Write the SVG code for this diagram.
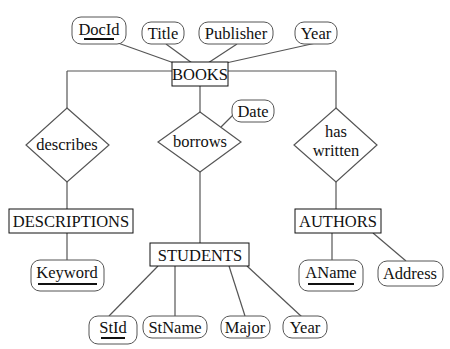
<svg xmlns="http://www.w3.org/2000/svg" width="450" height="349" viewBox="0 0 450 349">
<style>
text{font-family:"Liberation Serif","Times New Roman",serif;font-size:16.5px;fill:#111;text-anchor:middle;dominant-baseline:central}
.ent{fill:#fff;stroke:#111;stroke-width:1}
.att{fill:#fff;stroke:#555;stroke-width:1}
.rel{fill:#fff;stroke:#555;stroke-width:1.2}
.e{stroke:#555;stroke-width:1.2;fill:none}
.u{stroke:#111;stroke-width:2}
</style>
<rect width="450" height="349" fill="#fff"/>
<g id="connectors">
<line class="e" x1="67" y1="71" x2="336" y2="71"/>
<line class="e" x1="67" y1="71" x2="67" y2="108"/>
<line class="e" x1="336" y1="71" x2="336" y2="108"/>
<line class="e" x1="200" y1="86" x2="200" y2="112"/>
<line class="e" x1="118" y1="43" x2="174" y2="63"/>
<line class="e" x1="166" y1="44" x2="192" y2="63"/>
<line class="e" x1="237" y1="44" x2="208" y2="63"/>
<line class="e" x1="316" y1="43" x2="226" y2="63"/>
<line class="e" x1="221" y1="127" x2="234" y2="114"/>
<line class="e" x1="67" y1="182" x2="67" y2="209"/>
<line class="e" x1="67" y1="233" x2="67" y2="261"/>
<line class="e" x1="200" y1="172" x2="200" y2="243"/>
<line class="e" x1="336" y1="182" x2="336" y2="209"/>
<line class="e" x1="332" y1="233" x2="332" y2="261"/>
<line class="e" x1="373" y1="233" x2="406" y2="261"/>
<line class="e" x1="158" y1="266" x2="109" y2="316"/>
<line class="e" x1="175" y1="266" x2="175" y2="316"/>
<line class="e" x1="229" y1="266" x2="245" y2="316"/>
<line class="e" x1="247" y1="266" x2="302" y2="317"/>
</g>
<g id="BOOKS"><rect class="ent" x="172" y="62" width="56" height="24"/><text x="200" y="74">BOOKS</text></g>
<g id="DocId"><rect class="att" x="72" y="17" width="54" height="27" rx="9"/><text x="99" y="29">DocId</text><line class="u" x1="84" y1="39" x2="114" y2="39"/></g>
<g id="Title"><rect class="att" x="142" y="22" width="42" height="22" rx="9"/><text x="163" y="33">Title</text></g>
<g id="Publisher"><rect class="att" x="199" y="22" width="74" height="22" rx="9"/><text x="236" y="33">Publisher</text></g>
<g id="Year1"><rect class="att" x="295" y="22" width="42" height="22" rx="9"/><text x="316" y="33">Year</text></g>
<g id="describes"><polygon class="rel" points="67,108 109,145 67,182 26,145"/><text x="67" y="144">describes</text></g>
<g id="borrows"><polygon class="rel" points="200,112 241,142 200,172 158,142"/><text x="200" y="141">borrows</text></g>
<g id="Date"><rect class="att" x="232" y="100" width="42" height="22" rx="9"/><text x="253" y="111">Date</text></g>
<g id="haswritten"><polygon class="rel" points="336,108 377,145 336,182 294,145"/><text x="336" y="131">has</text><text x="336" y="150">written</text></g>
<g id="DESCRIPTIONS"><rect class="ent" x="9" y="209" width="124" height="24"/><text x="71" y="221">DESCRIPTIONS</text></g>
<g id="Keyword"><rect class="att" x="31" y="260" width="73" height="31" rx="9"/><text x="67" y="272">Keyword</text><line class="u" x1="38" y1="284" x2="97" y2="284"/></g>
<g id="AUTHORS"><rect class="ent" x="295" y="209" width="86" height="24"/><text x="338" y="221">AUTHORS</text></g>
<g id="AName"><rect class="att" x="299" y="260" width="64" height="31" rx="9"/><text x="331" y="272">AName</text><line class="u" x1="308" y1="284" x2="354" y2="284"/></g>
<g id="Address"><rect class="att" x="378" y="261" width="65" height="25" rx="9"/><text x="410" y="273">Address</text></g>
<g id="STUDENTS"><rect class="ent" x="150" y="243" width="99" height="23"/><text x="200" y="255">STUDENTS</text></g>
<g id="StId"><rect class="att" x="89" y="316" width="48" height="28" rx="9"/><text x="113" y="327">StId</text><line class="u" x1="101" y1="338" x2="125" y2="338"/></g>
<g id="StName"><rect class="att" x="143" y="316" width="64" height="22" rx="9"/><text x="175" y="327">StName</text></g>
<g id="Major"><rect class="att" x="221" y="316" width="49" height="22" rx="9"/><text x="245" y="327">Major</text></g>
<g id="Year2"><rect class="att" x="283" y="316" width="44" height="22" rx="9"/><text x="305" y="327">Year</text></g>
</svg>
